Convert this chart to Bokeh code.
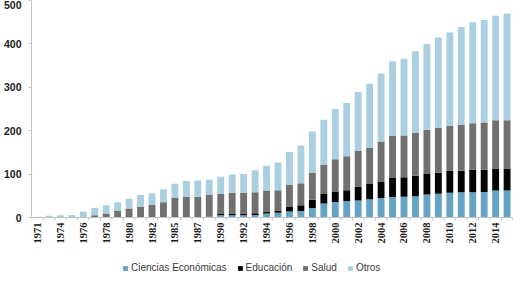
import math
from bokeh.plotting import figure
from bokeh.models import (ColumnDataSource, Range1d, FixedTicker, Legend,
                          LegendItem, Span)
from bokeh.embed import file_html
from bokeh.resources import INLINE

# Years shown on the horizontal axis (not every year is present)
years = [1971, 1972, 1974, 1975, 1976, 1977, 1978, 1979, 1980, 1981,
         1982, 1983, 1985, 1986, 1987, 1988, 1990, 1991, 1992, 1993,
         1994, 1995, 1996, 1997, 1998, 1999, 2000, 2001, 2002, 2003,
         2004, 2005, 2006, 2007, 2008, 2009, 2010, 2011, 2012, 2013,
         2014, 2015]

ciencias_economicas = [0, 0, 0, 0, 0, 0, 0, 0, 0, 0,
                       0, 0, 0, 0, 0, 0, 5, 5, 5, 6,
                       9, 11, 14, 15, 22, 32, 36, 38, 39, 42,
                       45, 47, 48, 49, 53, 55, 57, 58, 58, 59,
                       62, 62]
educacion = [0, 0, 0, 0, 0, 0, 0, 0, 0, 0,
             0, 0, 0, 0, 0, 2, 3, 3, 4, 4,
             5, 4, 10, 13, 19, 22, 24, 25, 32, 35,
             37, 44, 45, 47, 47, 48, 51, 50, 52, 51,
             51, 51]
salud = [0, 0, 0, 0, 1, 5, 9, 15, 21, 25,
         29, 35, 46, 48, 48, 50, 47, 49, 48, 48,
         48, 48, 51, 51, 62, 68, 74, 78, 82, 83,
         93, 97, 96, 99, 102, 104, 103, 105, 107, 109,
         111, 111]
otros = [2, 4, 5, 6, 13, 17, 19, 20, 22, 27,
         27, 30, 32, 36, 37, 35, 39, 42, 43, 51,
         57, 64, 76, 87, 95, 103, 116, 123, 136, 148,
         157, 172, 177, 188, 198, 208, 215, 226, 233, 236,
         241, 246]

y_ticks = [0, 100, 200, 300, 400, 500]

series_names = ["Ciencias Económicas", "Educación", "Salud", "Otros"]
keys = ["ce", "edu", "salud", "otros"]
colors = ["#64a3c3", "#050505", "#707070", "#aacfe1"]

FONT = "'Liberation Sans Narrow', 'Liberation Sans', sans-serif"
AXIS_GREY = "#c4c4c4"

H, W = 281, 513
PLOT_BOTTOM_PX = 64          # space under the baseline for years + legend
y_top = 500
units_per_px = y_top / (H - PLOT_BOTTOM_PX)
y_bottom = -PLOT_BOTTOM_PX * units_per_px

idx = list(range(len(years)))
source = ColumnDataSource(dict(x=idx, ce=ciencias_economicas, edu=educacion,
                               salud=salud, otros=otros))

p = figure(width=W, height=H,
           x_range=Range1d(-0.52, len(years) - 0.44),
           y_range=Range1d(y_bottom, y_top),
           output_backend="svg", toolbar_location=None,
           min_border_left=27, min_border_right=0,
           min_border_top=0, min_border_bottom=0)
p.outline_line_color = None
p.xgrid.visible = False
p.ygrid.visible = False
p.xaxis.visible = False

renderers = p.vbar_stack(keys, x="x", width=0.6, color=colors,
                         line_width=0, source=source)

# baseline and small ticks between the bars
p.add_layout(Span(location=0, dimension="width", line_color=AXIS_GREY,
                  line_width=1))
edges = [i - 0.5 for i in range(len(years) + 1)]
p.segment(x0=edges, y0=[0] * len(edges), x1=edges,
          y1=[-3 * units_per_px] * len(edges), line_color=AXIS_GREY,
          line_width=1)

# year labels on every other bar, reading upwards
label_idx = idx[::2]
p.text(x=label_idx, y=[-5 * units_per_px] * len(label_idx),
       text=[str(years[i]) for i in label_idx], angle=math.pi / 2,
       text_align="right", text_baseline="middle",
       text_font=FONT, text_font_style="bold", text_font_size="10.5px",
       text_color="#1a1a1a")

# vertical axis only spans the value range
p.yaxis.ticker = FixedTicker(ticks=y_ticks)
p.yaxis.bounds = (0, y_top)
p.yaxis.major_tick_out = 3
p.yaxis.major_tick_in = 0
p.yaxis.minor_tick_line_color = None
p.yaxis.major_label_standoff = 7
p.yaxis.axis_line_color = AXIS_GREY
p.yaxis.major_tick_line_color = AXIS_GREY
p.yaxis.major_label_text_font = FONT
p.yaxis.major_label_text_font_style = "bold"
p.yaxis.major_label_text_font_size = "10.5px"
p.yaxis.major_label_text_color = "#1a1a1a"

legend = Legend(items=[LegendItem(label=n, renderers=[r])
                       for n, r in zip(series_names, renderers)],
                orientation="horizontal", location=(91, 8),
                glyph_width=6, glyph_height=6, label_standoff=3, spacing=10,
                label_text_font=FONT, label_text_font_size="10px",
                label_text_color="#3a3a3a",
                border_line_color=None, background_fill_alpha=0,
                padding=4, margin=0)
p.add_layout(legend, "center")

open("out.html", "w").write(file_html(p, INLINE))
